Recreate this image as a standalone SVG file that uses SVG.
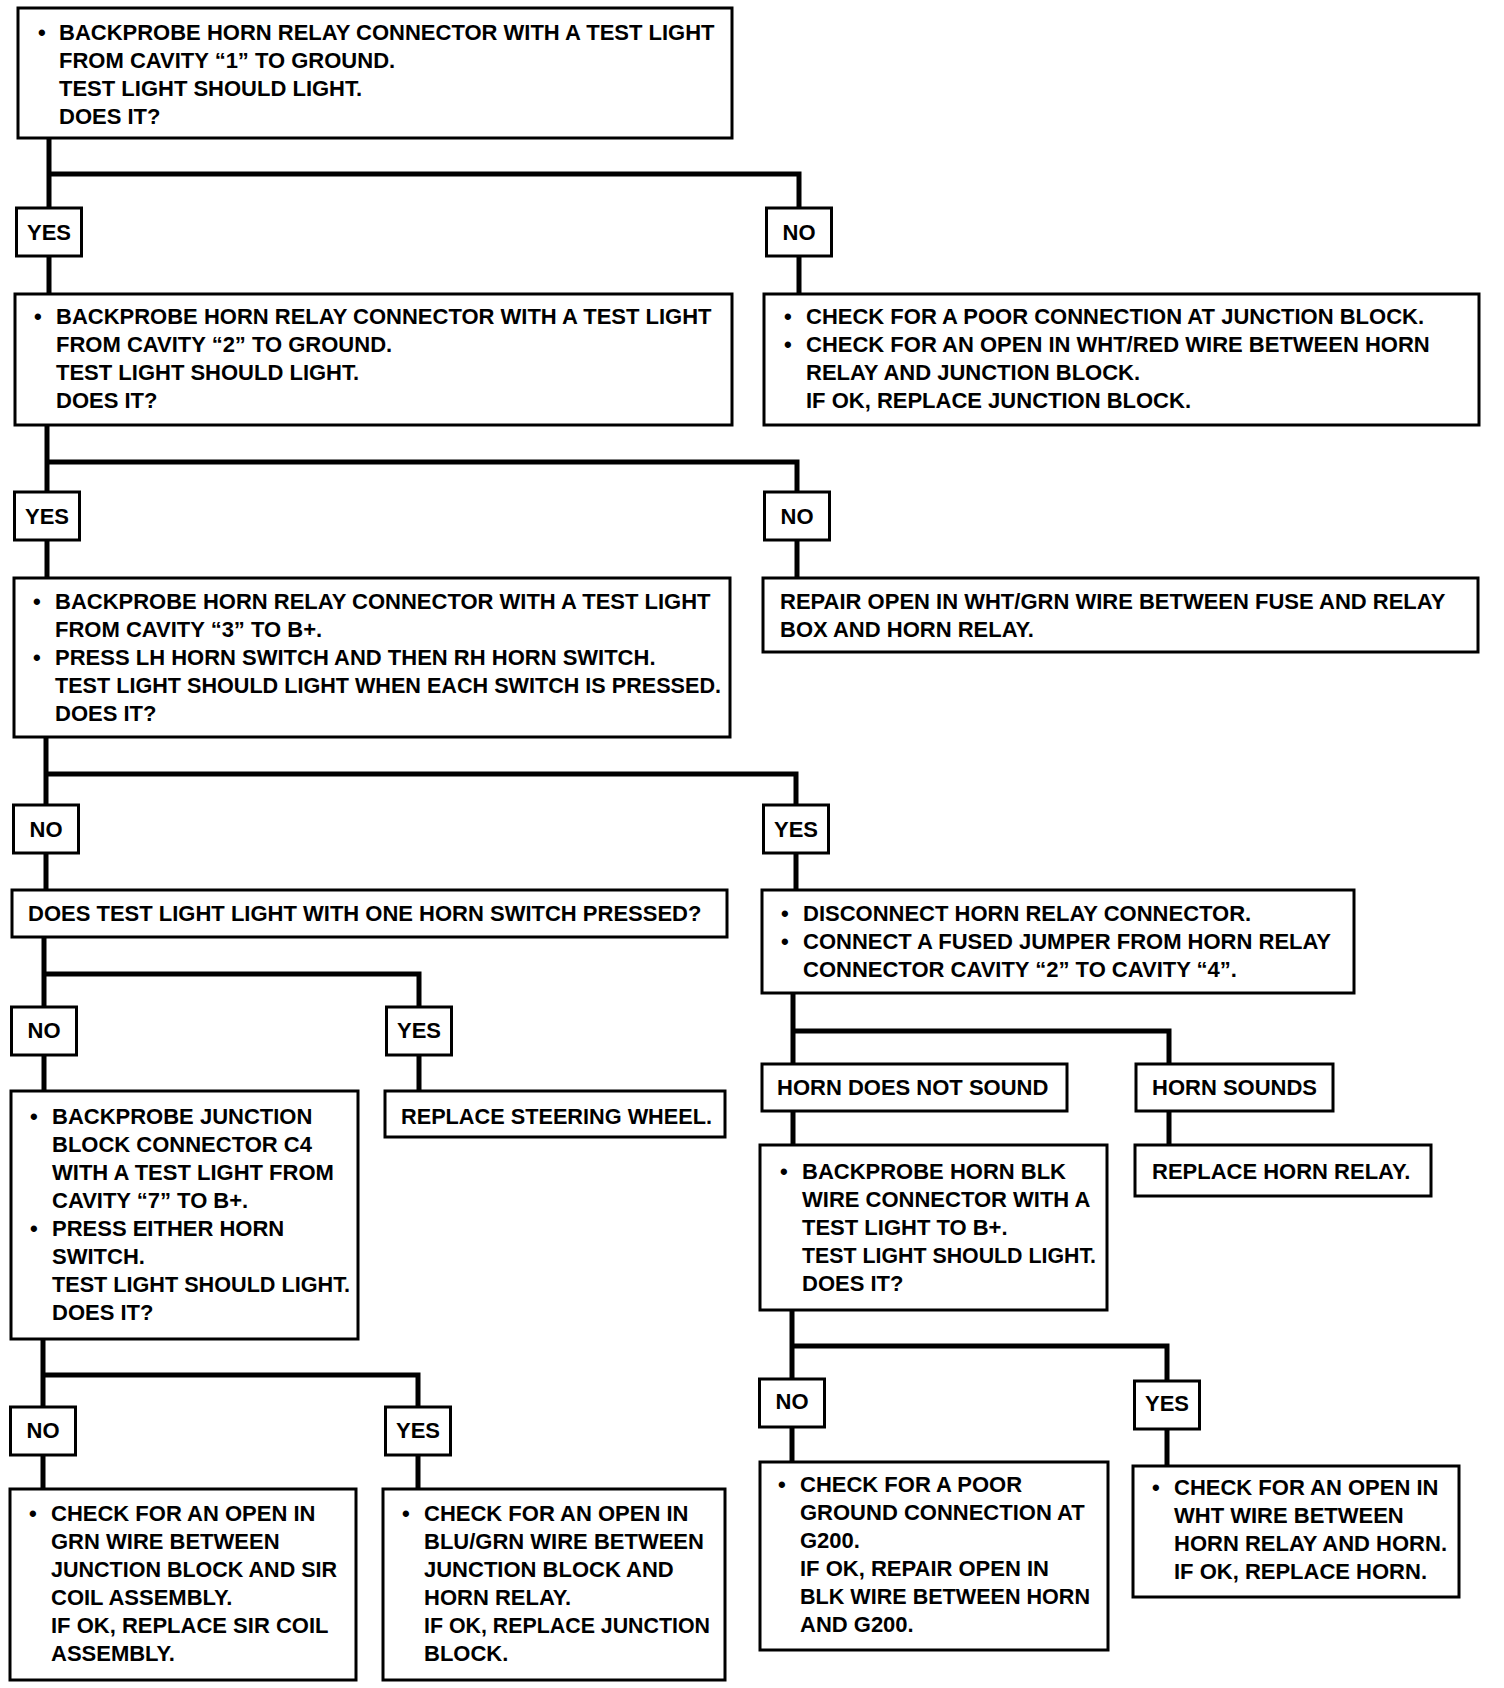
<svg xmlns="http://www.w3.org/2000/svg" width="1504" height="1688" viewBox="0 0 1504 1688">
<style>
.b{fill:#fff;stroke:#000;stroke-width:3}
.c{fill:none;stroke:#000;stroke-width:5}
text{font-family:"Liberation Sans",Arial,sans-serif;font-weight:bold;font-size:22px;fill:#000}
.m{text-anchor:middle}
</style>
<rect width="1504" height="1688" fill="#fff"/>
<g id="connectors">
<path class="c" d="M49,138V294M49,174H799V294"/>
<path class="c" d="M47,425V578M47,462H797V578"/>
<path class="c" d="M46,737V890M46,774H796V890"/>
<path class="c" d="M44,937V1091M44,974H419V1091"/>
<path class="c" d="M793,993V1145M793,1031H1169V1145"/>
<path class="c" d="M43,1339V1489M43,1375H418V1489"/>
<path class="c" d="M792,1310V1462M792,1346H1167V1466"/>
</g>
<g id="n1"><rect class="b" x="18" y="8" width="714" height="130"/>
<text x="38" y="40">•</text><text x="59" y="40">BACKPROBE HORN RELAY CONNECTOR WITH A TEST LIGHT</text>
<text x="59" y="68">FROM CAVITY “1” TO GROUND.</text>
<text x="59" y="96">TEST LIGHT SHOULD LIGHT.</text>
<text x="59" y="124">DOES IT?</text></g>
<g id="l1y"><rect class="b" x="16.5" y="208" width="65" height="48"/><text class="m" x="49" y="240">YES</text></g>
<g id="l1n"><rect class="b" x="766.5" y="208" width="65" height="48"/><text class="m" x="799" y="240">NO</text></g>
<g id="n2"><rect class="b" x="15" y="294" width="717" height="131"/>
<text x="34" y="324">•</text><text x="56" y="324">BACKPROBE HORN RELAY CONNECTOR WITH A TEST LIGHT</text>
<text x="56" y="352">FROM CAVITY “2” TO GROUND.</text>
<text x="56" y="380">TEST LIGHT SHOULD LIGHT.</text>
<text x="56" y="408">DOES IT?</text></g>
<g id="n3"><rect class="b" x="764" y="294" width="715" height="131"/>
<text x="784" y="324">•</text><text x="806" y="324">CHECK FOR A POOR CONNECTION AT JUNCTION BLOCK.</text>
<text x="784" y="352">•</text><text x="806" y="352">CHECK FOR AN OPEN IN WHT/RED WIRE BETWEEN HORN</text>
<text x="806" y="380">RELAY AND JUNCTION BLOCK.</text>
<text x="806" y="408">IF OK, REPLACE JUNCTION BLOCK.</text></g>
<g id="l2y"><rect class="b" x="14.5" y="492" width="65" height="48"/><text class="m" x="47" y="524">YES</text></g>
<g id="l2n"><rect class="b" x="764.5" y="492" width="65" height="48"/><text class="m" x="797" y="524">NO</text></g>
<g id="n4"><rect class="b" x="14" y="578" width="716" height="159"/>
<text x="33" y="609">•</text><text x="55" y="609">BACKPROBE HORN RELAY CONNECTOR WITH A TEST LIGHT</text>
<text x="55" y="637">FROM CAVITY “3” TO B+.</text>
<text x="33" y="665">•</text><text x="55" y="665">PRESS LH HORN SWITCH AND THEN RH HORN SWITCH.</text>
<text x="55" y="693" textLength="666" lengthAdjust="spacingAndGlyphs">TEST LIGHT SHOULD LIGHT WHEN EACH SWITCH IS PRESSED.</text>
<text x="55" y="721">DOES IT?</text></g>
<g id="n5"><rect class="b" x="763" y="578" width="715" height="74"/>
<text x="780" y="609">REPAIR OPEN IN WHT/GRN WIRE BETWEEN FUSE AND RELAY</text>
<text x="780" y="637">BOX AND HORN RELAY.</text></g>
<g id="l3n"><rect class="b" x="13.5" y="805" width="65" height="48"/><text class="m" x="46" y="837">NO</text></g>
<g id="l3y"><rect class="b" x="763.5" y="805" width="65" height="48"/><text class="m" x="796" y="837">YES</text></g>
<g id="n6"><rect class="b" x="12" y="890" width="715" height="47"/>
<text x="28" y="921">DOES TEST LIGHT LIGHT WITH ONE HORN SWITCH PRESSED?</text></g>
<g id="n7"><rect class="b" x="762" y="890" width="592" height="103"/>
<text x="781" y="921">•</text><text x="803" y="921">DISCONNECT HORN RELAY CONNECTOR.</text>
<text x="781" y="949">•</text><text x="803" y="949">CONNECT A FUSED JUMPER FROM HORN RELAY</text>
<text x="803" y="977">CONNECTOR CAVITY “2” TO CAVITY “4”.</text></g>
<g id="l4n"><rect class="b" x="11.5" y="1007" width="65" height="48"/><text class="m" x="44" y="1038">NO</text></g>
<g id="l4y"><rect class="b" x="386.5" y="1007" width="65" height="48"/><text class="m" x="419" y="1038">YES</text></g>
<g id="n8"><rect class="b" x="762" y="1064" width="305" height="47"/>
<text x="777" y="1095">HORN DOES NOT SOUND</text></g>
<g id="n9"><rect class="b" x="1136" y="1064" width="197" height="47"/>
<text x="1152" y="1095">HORN SOUNDS</text></g>
<g id="n10"><rect class="b" x="11" y="1091" width="347" height="248"/>
<text x="30" y="1124">•</text><text x="52" y="1124">BACKPROBE JUNCTION</text>
<text x="52" y="1152">BLOCK CONNECTOR C4</text>
<text x="52" y="1180">WITH A TEST LIGHT FROM</text>
<text x="52" y="1208">CAVITY “7” TO B+.</text>
<text x="30" y="1236">•</text><text x="52" y="1236">PRESS EITHER HORN</text>
<text x="52" y="1264">SWITCH.</text>
<text x="52" y="1292" textLength="298" lengthAdjust="spacingAndGlyphs">TEST LIGHT SHOULD LIGHT.</text>
<text x="52" y="1320">DOES IT?</text></g>
<g id="n11"><rect class="b" x="385" y="1091" width="340" height="46"/>
<text x="401" y="1124" textLength="311" lengthAdjust="spacingAndGlyphs">REPLACE STEERING WHEEL.</text></g>
<g id="n12"><rect class="b" x="760" y="1145" width="347" height="165"/>
<text x="780" y="1179">•</text><text x="802" y="1179">BACKPROBE HORN BLK</text>
<text x="802" y="1207">WIRE CONNECTOR WITH A</text>
<text x="802" y="1235">TEST LIGHT TO B+.</text>
<text x="802" y="1263" textLength="294" lengthAdjust="spacingAndGlyphs">TEST LIGHT SHOULD LIGHT.</text>
<text x="802" y="1291">DOES IT?</text></g>
<g id="n13"><rect class="b" x="1135" y="1145" width="296" height="51"/>
<text x="1152" y="1179">REPLACE HORN RELAY.</text></g>
<g id="l5n"><rect class="b" x="10.5" y="1407" width="65" height="48"/><text class="m" x="43" y="1438">NO</text></g>
<g id="l5y"><rect class="b" x="385.5" y="1407" width="65" height="48"/><text class="m" x="418" y="1438">YES</text></g>
<g id="l6n"><rect class="b" x="759.5" y="1379" width="65" height="48"/><text class="m" x="792" y="1409">NO</text></g>
<g id="l6y"><rect class="b" x="1134.5" y="1381" width="65" height="48"/><text class="m" x="1167" y="1411">YES</text></g>
<g id="n14"><rect class="b" x="10" y="1489" width="346" height="191"/>
<text x="29" y="1521">•</text><text x="51" y="1521">CHECK FOR AN OPEN IN</text>
<text x="51" y="1549">GRN WIRE BETWEEN</text>
<text x="51" y="1577" textLength="286" lengthAdjust="spacingAndGlyphs">JUNCTION BLOCK AND SIR</text>
<text x="51" y="1605">COIL ASSEMBLY.</text>
<text x="51" y="1633">IF OK, REPLACE SIR COIL</text>
<text x="51" y="1661">ASSEMBLY.</text></g>
<g id="n15"><rect class="b" x="383" y="1489" width="342" height="191"/>
<text x="402" y="1521">•</text><text x="424" y="1521">CHECK FOR AN OPEN IN</text>
<text x="424" y="1549">BLU/GRN WIRE BETWEEN</text>
<text x="424" y="1577">JUNCTION BLOCK AND</text>
<text x="424" y="1605">HORN RELAY.</text>
<text x="424" y="1633" textLength="286" lengthAdjust="spacingAndGlyphs">IF OK, REPLACE JUNCTION</text>
<text x="424" y="1661">BLOCK.</text></g>
<g id="n16"><rect class="b" x="760" y="1462" width="348" height="188"/>
<text x="778" y="1492">•</text><text x="800" y="1492">CHECK FOR A POOR</text>
<text x="800" y="1520">GROUND CONNECTION AT</text>
<text x="800" y="1548">G200.</text>
<text x="800" y="1576">IF OK, REPAIR OPEN IN</text>
<text x="800" y="1604" textLength="290" lengthAdjust="spacingAndGlyphs">BLK WIRE BETWEEN HORN</text>
<text x="800" y="1632">AND G200.</text></g>
<g id="n17"><rect class="b" x="1133" y="1466" width="326" height="131"/>
<text x="1152" y="1495">•</text><text x="1174" y="1495">CHECK FOR AN OPEN IN</text>
<text x="1174" y="1523">WHT WIRE BETWEEN</text>
<text x="1174" y="1551">HORN RELAY AND HORN.</text>
<text x="1174" y="1579">IF OK, REPLACE HORN.</text></g>
</svg>
